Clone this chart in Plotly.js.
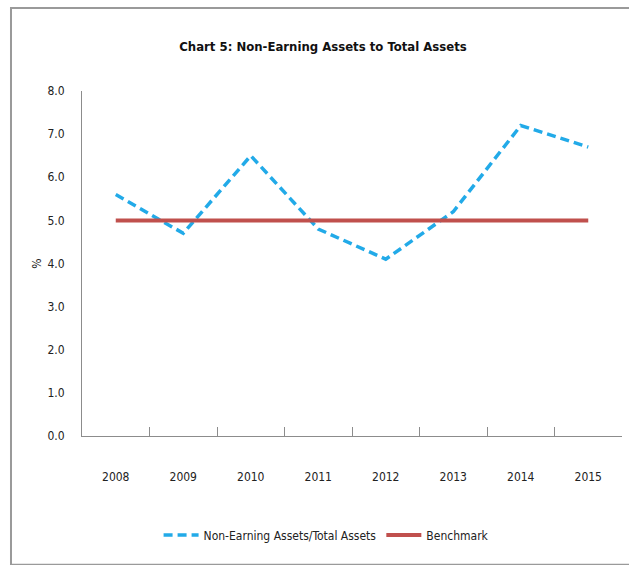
<!DOCTYPE html>
<html>
<head>
<meta charset="utf-8">
<script src="https://cdn.plot.ly/plotly-3.0.1.min.js"></script>
<style>
html,body{margin:0;padding:0;background:#fff;}
#chart{width:629px;height:565px;}
</style>
</head>
<body>
<div id="chart"></div>
<script>
const years = ["2008","2009","2010","2011","2012","2013","2014","2015"];
const nonEarningRatio = [5.6, 4.7, 6.5, 4.8, 4.1, 5.2, 7.2, 6.7];
const benchmark = [5.0, 5.0, 5.0, 5.0, 5.0, 5.0, 5.0, 5.0];
const yTicks = [0,1,2,3,4,5,6,7,8];
const yTickLabels = ["0.0","1.0","2.0","3.0","4.0","5.0","6.0","7.0","8.0"];

const FONT = '"DejaVu Sans Condensed", "Liberation Sans", sans-serif';

const traces = [
  {
    x: years, y: nonEarningRatio, type: 'scatter', mode: 'lines',
    name: 'Non-Earning Assets/Total Assets',
    line: {color: '#22AAE8', width: 3.5, dash: '9px,5px'}
  },
  {
    x: years, y: benchmark, type: 'scatter', mode: 'lines',
    name: 'Benchmark',
    line: {color: '#C0504D', width: 4}
  }
];

const layout = {
  width: 629, height: 565,
  margin: {l: 82, r: 7, t: 91, b: 129},
  paper_bgcolor: '#ffffff', plot_bgcolor: '#ffffff',
  font: {family: FONT, size: 12, color: '#222'},
  title: {
    text: '<b>Chart 5: Non-Earning Assets to Total Assets</b>',
    font: {family: FONT, size: 13, color: '#111'},
    x: 0.4463, xanchor: 'center', y: 0.918, yanchor: 'middle', xref: 'paper'
  },
  showlegend: true,
  legend: {
    orientation: 'h', x: 0.452, xanchor: 'center', y: -0.287, yanchor: 'middle',
    font: {family: FONT, size: 12, color: '#222'},
    itemwidth: 35, tracegroupgap: 0
  },
  xaxis: {
    type: 'category',
    range: [-0.5, 7.5],
    showgrid: false, zeroline: false,
    showline: true, linecolor: '#8c8c8c', linewidth: 1,
    ticks: 'inside', tickson: 'boundaries', ticklen: 9, tickcolor: '#8c8c8c', tickwidth: 1,
    ticklabelstandoff: 30,
    tickfont: {family: FONT, size: 12, color: '#222'},
    fixedrange: true
  },
  yaxis: {
    range: [0, 8],
    tickvals: yTicks, ticktext: yTickLabels,
    showgrid: false, zeroline: false,
    showline: true, linecolor: '#8c8c8c', linewidth: 1,
    ticks: '', ticklabelstandoff: 14,
    tickfont: {family: FONT, size: 12, color: '#222'},
    title: {text: '%', font: {family: FONT, size: 12, color: '#222'}, standoff: 3},
    fixedrange: true
  },
  shapes: [
    {
      type: 'rect', xref: 'paper', yref: 'paper',
      x0: -0.1315, x1: 1.04, y0: -0.373, y1: 1.2406,
      line: {color: '#9a9a9a', width: 2}, fillcolor: 'rgba(0,0,0,0)', layer: 'below'
    }
  ]
};

Plotly.newPlot('chart', traces, layout, {displayModeBar: false, staticPlot: true});
</script>
</body>
</html>
